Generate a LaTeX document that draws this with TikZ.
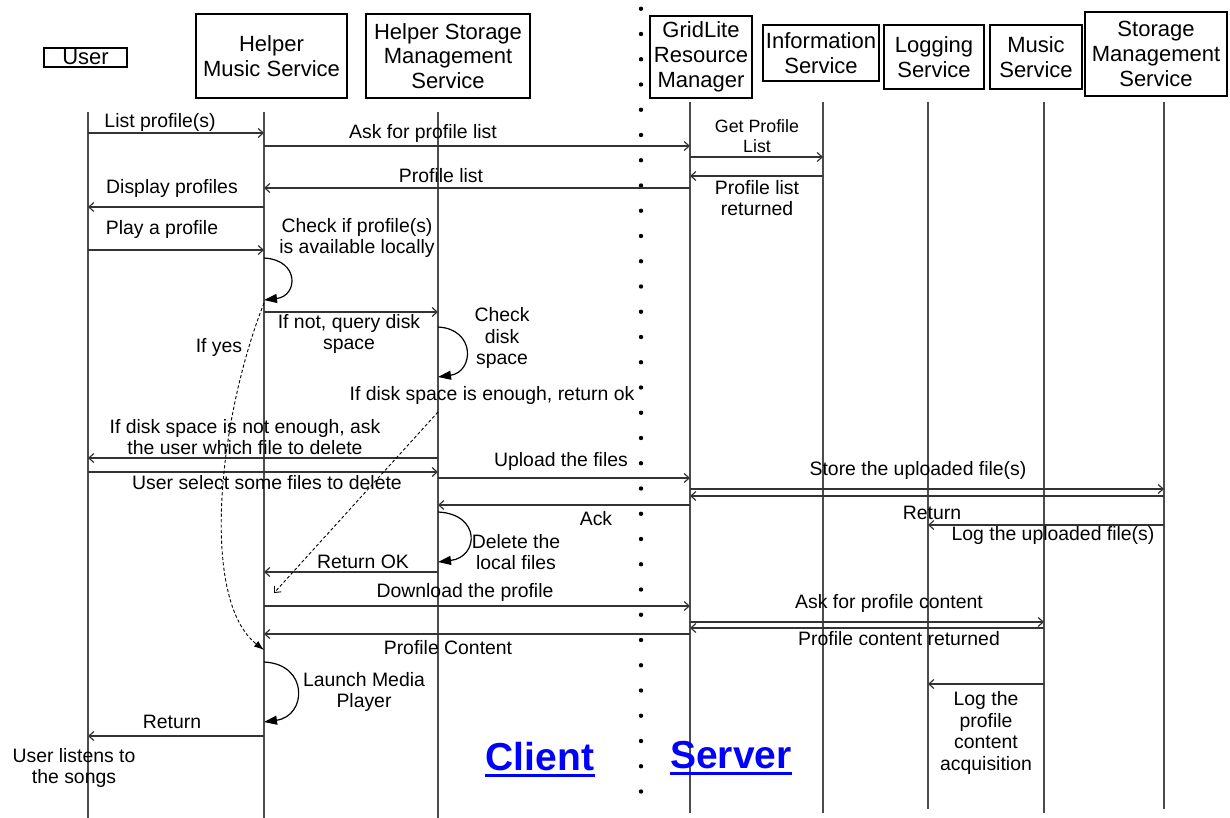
\documentclass[tikz,border=0pt]{standalone}
\usepackage{fontspec}
\setmainfont{Liberation Sans}
\usetikzlibrary{arrows.meta}

\begin{document}
\begin{tikzpicture}[x=0.5pt,y=-0.5pt,>={Straight Barb[length=2.5pt,width=4.5pt]},
    hdr/.style={draw,line width=0.6pt,align=center,inner sep=0pt,font=\fontsize{11}{12.4}\selectfont},
    life/.style={draw=black!70,line width=0.6pt},
    msg/.style={draw=black!80,line width=0.6pt,->},
    lbl/.style={align=center,inner sep=0pt,font=\fontsize{9.7}{10.7}\selectfont},
    selfmsg/.style={line width=0.6pt,-{Triangle[length=6.5pt,width=4.5pt]}},
    hint/.style={line width=0.45pt,dash pattern=on 1.6pt off 1.1pt},
    side/.style={text=blue,inner sep=0pt,font=\fontsize{19.5}{20}\selectfont\bfseries}]
    \useasboundingbox (0,0) rectangle (1230,818);

    \node[hdr,minimum width=41.5pt,minimum height=9.5pt] (user) at (85.5,57.5) {User};
    \node[hdr,minimum width=75.5pt,minimum height=42pt]  (hms)  at (271.5,56) {Helper\\Music Service};
    \node[hdr,minimum width=82pt,minimum height=42pt]    (hsms) at (448,56)   {Helper Storage\\Management\\Service};
    \node[hdr,minimum width=51pt,minimum height=41pt]    (grm)  at (701,57)   {GridLite\\Resource\\Manager};
    \node[hdr,minimum width=58pt,minimum height=28pt]    (info) at (821,53)   {Information\\Service};
    \node[hdr,minimum width=50pt,minimum height=32pt]    (logs) at (934,57)   {Logging\\Service};
    \node[hdr,minimum width=46pt,minimum height=32pt]    (music) at (1036,57) {Music\\Service};
    \node[hdr,minimum width=71pt,minimum height=42pt]    (sms)  at (1156,54)  {Storage\\Management\\Service};

    \coordinate (uL)   at (88,112);
    \coordinate (hmL)  at (264,112);
    \coordinate (hsL)  at (438,112);
    \coordinate (grmL) at (690,102);
    \coordinate (infL) at (823,102);
    \coordinate (logL) at (928,102);
    \coordinate (musL) at (1044,102);
    \coordinate (smsL) at (1164,102);

    \draw[life] (uL) -- (uL |- 0,818);
    \draw[life] (hmL) -- (hmL |- 0,818);
    \draw[life] (hsL) -- (hsL |- 0,818);
    \draw[life] (grmL) -- (grmL |- 0,813);
    \draw[life] (infL) -- (infL |- 0,813);
    \draw[life] (logL) -- (logL |- 0,809);
    \draw[life] (musL) -- (musL |- 0,813);
    \draw[life] (smsL) -- (smsL |- 0,809);

    \foreach \i in {0,...,31}
        \fill (641,{8.75+25.25*\i}) circle (1.1pt);

    \draw[msg] (uL |- 0,133) -- (hmL |- 0,133);
    \draw[msg] (hmL |- 0,146) -- (grmL |- 0,146);
    \draw[msg] (grmL |- 0,157) -- (infL |- 0,157);
    \draw[msg] (infL |- 0,176) -- (grmL |- 0,176);
    \draw[msg] (grmL |- 0,188) -- (hmL |- 0,188);
    \draw[msg] (hmL |- 0,207) -- (uL |- 0,207);
    \draw[msg] (uL |- 0,250) -- (hmL |- 0,250);
    \draw[msg] (hmL |- 0,312) -- (hsL |- 0,312);
    \draw[msg] (hsL |- 0,458) -- (uL |- 0,458);
    \draw[msg] (uL |- 0,472) -- (hsL |- 0,472);
    \draw[msg] (hsL |- 0,478) -- (grmL |- 0,478);
    \draw[msg] (grmL |- 0,489) -- (smsL |- 0,489);
    \draw[msg] (smsL |- 0,496) -- (grmL |- 0,496);
    \draw[msg] (grmL |- 0,505) -- (hsL |- 0,505);
    \draw[msg] (smsL |- 0,525) -- (logL |- 0,525);
    \draw[msg] (hsL |- 0,572) -- (hmL |- 0,572);
    \draw[msg] (hmL |- 0,606) -- (grmL |- 0,606);
    \draw[msg] (grmL |- 0,622) -- (musL |- 0,622);
    \draw[msg] (musL |- 0,628) -- (grmL |- 0,628);
    \draw[msg] (grmL |- 0,634) -- (hmL |- 0,634);
    \draw[msg] (musL |- 0,684) -- (logL |- 0,684);
    \draw[msg] (hmL |- 0,736) -- (uL |- 0,736);

    \draw[selfmsg] (hmL |- 0,258) .. controls (300,260) and (298,296) .. (hmL |- 0,300);
    \draw[selfmsg] (hsL |- 0,327) .. controls (476,329) and (474,372) .. (hsL |- 0,377);
    \draw[selfmsg] (hsL |- 0,512) .. controls (481,514) and (479,557) .. (hsL |- 0,562);
    \draw[selfmsg] (hmL |- 0,662) .. controls (309,664) and (307,716) .. (hmL |- 0,722);

    \draw[hint,-{Latex[length=5pt,width=3.5pt]}] (hmL |- 0,303) .. controls (218,420) and (200,600) .. (hmL |- 0,650);
    \draw[hint,->] (hsL |- 0,412) -- (274,593);

    \node[lbl] (lblList)     at (160,122) {List profile(s)};
    \node[lbl] (lblAsk)      at (423,133) {Ask for profile list};
    \node[lbl,font=\fontsize{8.9}{10}\selectfont] (lblGet) at (757,136) {Get Profile\\List};
    \node[lbl] (lblListRet)  at (757,198) {Profile list\\returned};
    \node[lbl] (lblPList)    at (441,176) {Profile list};
    \node[lbl] (lblDisplay)  at (172,188) {Display profiles};
    \node[lbl] (lblPlay)     at (162,229) {Play a profile};
    \node[lbl] (lblLocal)    at (357,238) {Check if profile(s)\\is available locally};
    \node[lbl] (lblQuery)    at (349,334) {If not, query disk\\space};
    \node[lbl] (lblDisk)     at (502,338) {Check\\disk\\space};
    \node[lbl] (lblEnough)   at (492,395) {If disk space is enough, return ok};
    \node[lbl] (lblYes)      at (219,347) {If yes};
    \node[lbl] (lblNotEn)    at (245,437) {If disk space is not enough, ask\\the user which file to delete};
    \node[lbl] (lblSelect)   at (267,483) {User select some files to delete};
    \node[lbl] (lblUpload)   at (561,461) {Upload the files};
    \node[lbl] (lblStore)    at (918,470) {Store the uploaded file(s)};
    \node[lbl] (lblRetStore) at (932,513) {Return};
    \node[lbl] (lblLogUp)    at (1053,535) {Log the uploaded file(s)};
    \node[lbl] (lblAck)      at (596,519) {Ack};
    \node[lbl] (lblDelete)   at (516,552) {Delete the\\local files};
    \node[lbl] (lblRetOK)    at (363,562) {Return OK};
    \node[lbl] (lblDownload) at (465,592) {Download the profile};
    \node[lbl] (lblAskCont)  at (889,603) {Ask for profile content};
    \node[lbl] (lblContRet)  at (899,639) {Profile content returned};
    \node[lbl] (lblContent)  at (448,648) {Profile Content};
    \node[lbl] (lblLaunch)   at (364,692) {Launch Media\\Player};
    \node[lbl] (lblRetUser)  at (172,722) {Return};
    \node[lbl] (lblListen)   at (74,768)  {User listens to\\the songs};
    \node[lbl] (lblLogAcq)   at (986,733) {Log the\\profile\\content\\acquisition};

    \node[side] (lblClient) at (540,757) {Client};
    \node[side] (lblServer) at (731,755) {Server};
    \draw[blue,line width=1.4pt] ([yshift=-2pt]lblClient.south west) -- ([yshift=-2pt]lblClient.south east);
    \draw[blue,line width=1.4pt] ([yshift=-2pt]lblServer.south west) -- ([yshift=-2pt]lblServer.south east);
\end{tikzpicture}
\end{document}
